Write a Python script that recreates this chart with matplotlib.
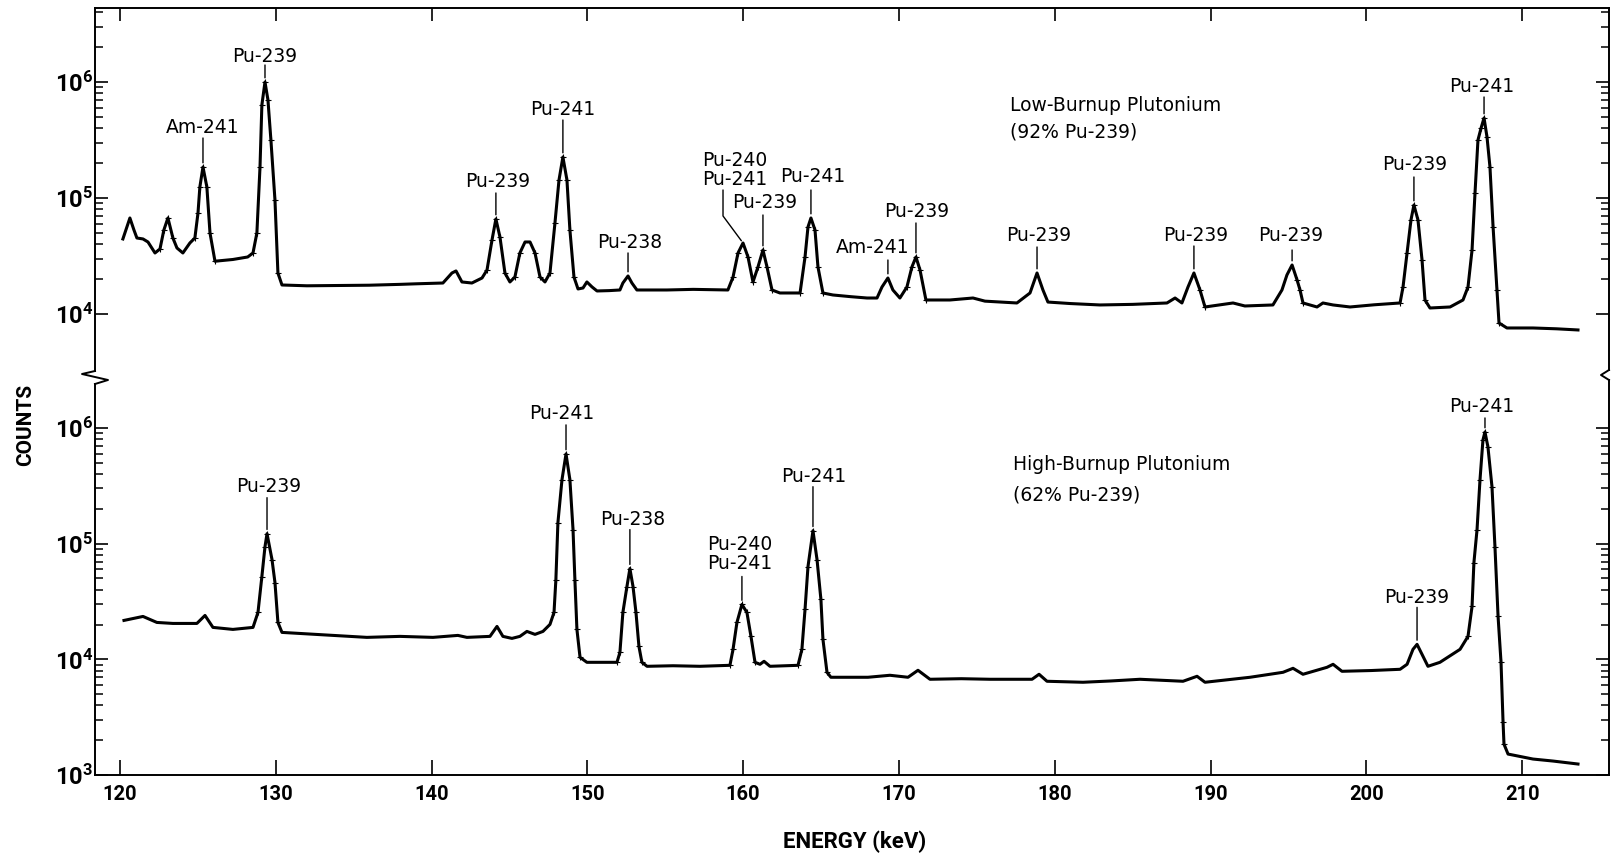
import numpy as np
import matplotlib
matplotlib.use('Agg')
import matplotlib.pyplot as plt
from matplotlib.lines import Line2D
from matplotlib.ticker import FixedLocator, FixedFormatter, NullFormatter

plt.rcParams['font.family'] = ['DejaVu Sans']
plt.rcParams['mathtext.fontset'] = 'custom'
plt.rcParams['mathtext.bf'] = 'Roboto:bold'
plt.rcParams['mathtext.rm'] = 'Roboto:bold'

# low-burnup spectrum (92% Pu-239): energy in keV, counts per channel
low_energy = [120.19, 120.64, 120.90, 121.09, 121.48, 121.80, 122.25, 122.57, 122.82, 123.08,
              123.40, 123.66, 124.04, 124.49, 124.81, 125.01, 125.13, 125.33, 125.58, 125.78,
              126.10, 127.25, 128.20, 128.54, 128.79, 128.99, 129.11, 129.31, 129.50, 129.69,
              129.95, 130.14, 130.40, 132.00, 134.00, 136.00, 137.97, 139.00, 140.73, 141.31,
              141.57, 141.95, 142.59, 143.24, 143.56, 143.88, 144.13, 144.39, 144.71, 145.03,
              145.35, 145.67, 146.00, 146.32, 146.64, 146.96, 147.28, 147.60, 147.92, 148.18,
              148.43, 148.69, 148.88, 149.14, 149.40, 149.72, 149.97, 150.30, 150.62, 151.40,
              152.09, 152.28, 152.61, 152.86, 153.18, 155.11, 156.80, 159.02, 159.35, 159.67,
              159.99, 160.31, 160.63, 160.95, 161.27, 161.53, 161.85, 162.36, 163.65, 163.97,
              164.16, 164.35, 164.61, 164.80, 165.12, 165.76, 166.90, 167.95, 168.59, 168.91,
              169.29, 169.61, 170.06, 170.51, 170.83, 171.09, 171.35, 171.73, 173.27, 174.75,
              175.52, 177.57, 178.41, 178.86, 179.24, 179.56, 181.00, 182.90, 185.00, 187.20,
              187.72, 188.16, 188.55, 188.93, 189.32, 189.64, 191.44, 192.20, 194.00, 194.58,
              194.90, 195.23, 195.55, 195.74, 195.93, 196.83, 197.21, 197.86, 198.95, 200.50,
              202.16, 202.35, 202.61, 202.86, 203.05, 203.31, 203.57, 203.76, 204.08, 205.37,
              206.20, 206.52, 206.78, 206.97, 207.16, 207.36, 207.55, 207.74, 207.93, 208.13,
              208.38, 208.51, 209.02, 210.69, 212.20, 213.58]
low_counts = [44340, 67230, 52970, 45190, 44340, 41750, 33570, 36340, 52970, 67230,
              45190, 37070, 33570, 40930, 45190, 74260, 124400, 185000, 124400, 49930,
              28500, 29500, 31000, 33570, 49930, 185000, 634000, 1000000, 700000, 316000,
              96200, 22560, 17780, 17500, 17600, 17700, 18000, 18200, 18490, 22560,
              23500, 18880, 18490, 20430, 23950, 43450, 65920, 46110, 22560, 18880,
              20840, 33570, 41750, 41750, 33570, 20840, 18880, 22560, 60880, 142900,
              225600, 142900, 52970, 20840, 16430, 16750, 18880, 17100, 15790, 15900,
              16100, 18490, 21270, 18490, 16100, 16100, 16300, 16100, 20840, 33570,
              40930, 31000, 18880, 25430, 35620, 25430, 16100, 15170, 15170, 31000,
              56230, 67230, 52970, 25430, 15170, 14580, 14100, 13730, 13730, 17090,
              20430, 16100, 13730, 17090, 25430, 31000, 23950, 13200, 13200, 13730,
              12900, 12440, 15170, 22560, 16100, 12670, 12300, 11960, 12100, 12440,
              13730, 12440, 17090, 22560, 16100, 11490, 12440, 11720, 11960, 16100,
              21700, 26450, 19640, 16100, 12440, 11490, 12440, 11960, 11490, 12000,
              12440, 17090, 33570, 64620, 87030, 64620, 29210, 13200, 11260, 11490,
              13200, 17090, 35620, 110400, 316000, 401200, 489500, 335700, 185000, 56230,
              16100, 8365, 7573, 7573, 7450, 7280]

# high-burnup spectrum (62% Pu-239)
high_energy = [120.26, 121.48, 122.37, 123.40, 124.94, 125.46, 125.97, 127.25, 128.54, 128.86,
               129.11, 129.31, 129.44, 129.76, 129.95, 130.14, 130.40, 133.00, 135.85, 137.97,
               140.09, 141.69, 142.27, 143.75, 144.20, 144.58, 145.16, 145.67, 146.12, 146.64,
               147.15, 147.60, 147.86, 147.98, 148.11, 148.37, 148.63, 148.88, 149.08, 149.20,
               149.33, 149.53, 149.97, 151.90, 152.09, 152.28, 152.54, 152.73, 152.93, 153.12,
               153.31, 153.50, 153.83, 155.50, 157.23, 159.15, 159.35, 159.60, 159.92, 160.24,
               160.50, 160.76, 161.08, 161.34, 161.72, 163.52, 163.77, 163.97, 164.16, 164.48,
               164.74, 164.99, 165.12, 165.38, 165.63, 168.01, 169.42, 170.58, 171.22, 171.99,
               174.00, 175.84, 178.54, 178.99, 179.50, 181.81, 183.60, 185.47, 188.23, 189.13,
               189.64, 192.53, 194.65, 195.29, 195.93, 197.47, 197.86, 198.43, 200.30, 202.16,
               202.61, 202.99, 203.25, 203.57, 203.95, 204.72, 206.01, 206.52, 206.78, 206.90,
               207.10, 207.29, 207.48, 207.61, 207.80, 208.06, 208.25, 208.45, 208.64, 208.77,
               208.83, 209.09, 210.69, 211.98, 213.58]
high_counts = [21690, 23480, 20840, 20430, 20430, 23950, 18880, 18140, 18880, 25430,
               51930, 94220, 122000, 72800, 46110, 20840, 17090, 16300, 15480, 15790,
               15480, 16100, 15480, 15790, 19250, 15790, 15170, 15790, 17430, 16430,
               17430, 20030, 25430, 48950, 151700, 356200, 596900, 356200, 132000, 48950,
               18140, 10400, 9422, 9422, 11490, 25430, 42600, 60880, 42600, 25430,
               12940, 9422, 8703, 8800, 8703, 8877, 12200, 20840, 29800, 25430,
               15790, 9422, 9057, 9612, 8703, 8877, 12200, 26980, 63350, 129400,
               72800, 32900, 14870, 7725, 6996, 6996, 7280, 6996, 8040, 6723,
               6800, 6723, 6723, 7426, 6461, 6334, 6500, 6723, 6461, 7135,
               6334, 6996, 7725, 8365, 7426, 8531, 9057, 7880, 8000, 8200,
               9057, 12200, 13470, 11040, 8703, 9422, 12200, 15790, 28640, 68580,
               132000, 356200, 788000, 923800, 685800, 310000, 94220, 23480, 9422, 2864,
               1850, 1517, 1374, 1320, 1244]

# peak identifications
low_peaks = ["Am-241", "Pu-239", "Pu-239", "Pu-241", "Pu-238", "Pu-240\nPu-241", "Pu-239",
             "Pu-241", "Am-241", "Pu-239", "Pu-239", "Pu-239", "Pu-239", "Pu-239", "Pu-241"]
low_peak_e = [125.33, 129.31, 144.13, 148.43, 152.61, 159.99, 161.27,
              164.35, 169.29, 171.09, 178.86, 188.93, 195.23, 203.05, 207.55]
high_peaks = ["Pu-239", "Pu-241", "Pu-238", "Pu-240\nPu-241", "Pu-241", "Pu-239", "Pu-241"]
high_peak_e = [129.44, 148.63, 152.73, 159.92, 164.48, 203.25, 207.61]

# label placement in pixels above the peak: (dx, dy of text, top of leader line)
low_place = [(0, 39, 29), (0, 25, 17), (2, 37, 26), (0, 48, 37), (2, 33, 23), (-8, 73, None),
             (2, 47, 35), (2, 41, 28), (-15, 30, 18), (1, 45, 34), (2, 37, 26), (2, 37, 27),
             (-1, 29, 15), (1, 40, 28), (-2, 31, 21)]
high_place = [(2, 47, 36), (-4, 40, 29), (3, 49, 39), (-2, 50, 28), (1, 54, 44), (0, 47, 37),
              (-3, 25, 14)]

W, H = 1611, 857
fig = plt.figure(figsize=(W / 100, H / 100), dpi=100)
ax_hi = fig.add_axes([95 / W, 1 - 378 / H, 1514 / W, 370 / H])
ax_lo = fig.add_axes([95 / W, 1 - 775 / H, 1514 / W, 397 / H])


def peak_at(e, energy, counts):
    energy = np.asarray(energy)
    counts = np.asarray(counts)
    return counts[np.abs(energy - e) < 0.2].max()


def steep_points(energy, counts, limit=0.42):
    # channels on the flanks of the peaks get a '+' like the plotter output
    e = np.asarray(energy)
    lc = np.log10(counts)
    s = np.abs(np.diff(lc)) / np.diff(e)
    flag = np.zeros(len(e), bool)
    flag[:-1] |= s > limit
    flag[1:] |= s > limit
    return list(np.flatnonzero(flag))


def setup(ax, ylo, yhi, majors, minors):
    ax.set_yscale('log')
    ax.set_xlim(118.4, 215.57)
    ax.set_ylim(10 ** ylo, 10 ** yhi)
    ax.yaxis.set_major_locator(FixedLocator(majors))
    ax.yaxis.set_major_formatter(FixedFormatter(
        [r'$\mathbf{10^{%d}}$' % round(np.log10(m)) for m in majors]))
    ax.yaxis.set_minor_locator(FixedLocator(minors))
    ax.yaxis.set_minor_formatter(NullFormatter())
    ax.tick_params(axis='y', which='major', direction='in', left=True, right=True,
                   length=9.5, width=1.2, labelsize=17, pad=1.5)
    ax.tick_params(axis='y', which='minor', direction='in', left=True, right=True,
                   length=6, width=1.1)
    ax.set_xticks(np.arange(120, 211, 10))
    for s in ax.spines.values():
        s.set_linewidth(1.4)


setup(ax_hi, 3.448, 6.638, [1e4, 1e5, 1e6],
      [m * 10 ** k for k in (4, 5) for m in range(2, 10)] + [2e6, 3e6, 4e6])
setup(ax_lo, 3.0, 6.432, [1e3, 1e4, 1e5, 1e6],
      [m * 10 ** k for k in (3, 4, 5) for m in range(2, 10)])

ax_hi.tick_params(axis='x', direction='in', bottom=False, top=True, labelbottom=False,
                  length=9.5, width=1.2)
ax_lo.tick_params(axis='x', direction='in', bottom=True, top=False, length=11, width=1.2,
                  pad=7, labelsize=14.5)
for lbl in ax_lo.get_xticklabels():
    lbl.set_fontfamily('Roboto')
    lbl.set_fontweight('bold')

ax_hi.spines['bottom'].set_visible(False)
ax_lo.spines['top'].set_visible(False)
# leave room on the side spines for the break marks
ax_hi.spines['left'].set_bounds(10 ** 3.508, 10 ** 6.638)
ax_hi.spines['right'].set_bounds(10 ** 3.517, 10 ** 6.638)
ax_lo.spines['left'].set_bounds(10 ** 3.0, 10 ** 6.380)
ax_lo.spines['right'].set_bounds(10 ** 3.0, 10 ** 6.415)

fig.add_artist(Line2D([95 / W, 82 / W, 108 / W, 95 / W],
                      [1 - 371 / H, 1 - 374 / H, 1 - 380 / H, 1 - 384 / H],
                      color='black', lw=1.4))
fig.add_artist(Line2D([1609 / W, 1601 / W, 1609 / W],
                      [1 - 370 / H, 1 - 375 / H, 1 - 380 / H], color='black', lw=1.4))

for ax, e, c in ((ax_hi, low_energy, low_counts), (ax_lo, high_energy, high_counts)):
    ax.plot(e, c, color='black', lw=2.2, solid_joinstyle='round')
    ax.plot(e, c, linestyle='none', color='black', marker='+', ms=5, mew=0.8,
            markevery=steep_points(e, c))


def label_peaks(ax, names, energies, places, energy, counts):
    for name, e, (dx, dy, top) in zip(names, energies, places):
        c = peak_at(e, energy, counts)
        ax.annotate(name, xy=(e, c), xytext=(dx, dy), textcoords='offset pixels',
                    ha='center', va='center', ma='left', fontsize=13.5, linespacing=1.0)
        if top is None:
            ax.annotate('', xy=(e, c), xytext=(-20, 53), textcoords='offset pixels',
                        arrowprops=dict(arrowstyle='-', lw=1.0, color='black', shrinkA=0,
                                        shrinkB=2,
                                        connectionstyle='angle,angleA=90,angleB=126.5,rad=0'))
        else:
            ax.annotate('', xy=(e, c), xytext=(0, top), textcoords='offset pixels',
                        arrowprops=dict(arrowstyle='-', lw=1.0, color='black', shrinkA=0,
                                        shrinkB=3))


label_peaks(ax_hi, low_peaks, low_peak_e, low_place, low_energy, low_counts)
label_peaks(ax_lo, high_peaks, high_peak_e, high_place, high_energy, high_counts)

ax_hi.text(0.6044, 0.7378, "Low-Burnup Plutonium", transform=ax_hi.transAxes,
           ha='left', va='center', fontsize=13.5)
ax_hi.text(0.6044, 0.6649, "(92% Pu-239)", transform=ax_hi.transAxes,
           ha='left', va='center', fontsize=13.5)
ax_lo.text(0.6063, 0.7809, "High-Burnup Plutonium", transform=ax_lo.transAxes,
           ha='left', va='center', fontsize=13.5)
ax_lo.text(0.6063, 0.7053, "(62% Pu-239)", transform=ax_lo.transAxes,
           ha='left', va='center', fontsize=13.5)

fig.text(26 / W, 1 - 425 / H, "COUNTS", rotation=90, ha='center', va='center',
         fontsize=15, fontweight='bold', family='Roboto')
fig.text(855 / W, 1 - 842 / H, "ENERGY (keV)", ha='center', va='center',
         fontsize=16, fontweight='bold', family='Roboto')

fig.savefig('out.png', dpi=100)
